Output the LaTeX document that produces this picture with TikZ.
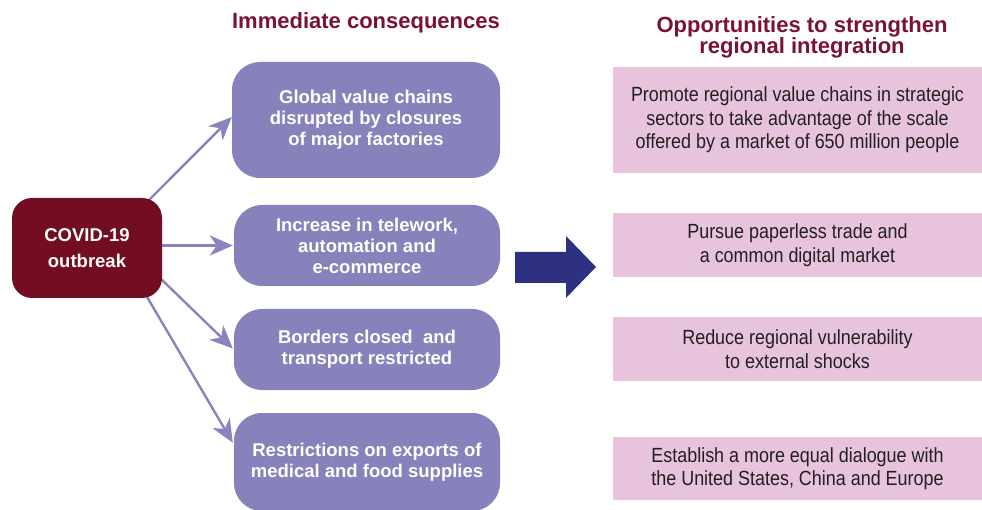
\documentclass[tikz,border=0pt]{standalone}
\usepackage{fontspec}
\setmainfont{Liberation Sans}
\newfontfamily\condfont{Liberation Sans}[FakeStretch=0.875]
\usetikzlibrary{arrows.meta,backgrounds,calc}
\definecolor{covidred}{HTML}{730D22}
\definecolor{headred}{HTML}{7A1234}
\definecolor{purp}{HTML}{8781BC}
\definecolor{arrowpurp}{HTML}{8A83C0}
\definecolor{pinkbox}{HTML}{E8C3DE}
\definecolor{navyarrow}{HTML}{2E3182}
\definecolor{darktext}{HTML}{231F20}
\begin{document}
\begin{tikzpicture}[x=1pt,y=-1pt,
  heading/.style={text=headred,font=\bfseries\fontsize{22}{21}\selectfont,align=center,inner sep=0pt},
  covidbox/.style={fill=covidred,rounded corners=20pt,minimum width=150pt,minimum height=100pt,text=white,font=\bfseries\fontsize{18.5}{26}\selectfont,align=center,inner sep=0pt},
  consbox/.style={fill=purp,rounded corners=28pt,text=white,font=\bfseries\fontsize{18.5}{21}\selectfont,align=center,inner sep=0pt},
  oppbox/.style={fill=pinkbox,text=darktext,font=\condfont\fontsize{20.5}{23.5}\selectfont,align=center,inner sep=0pt,minimum width=369pt},
  conn/.style={draw=arrowpurp,line width=2.4pt,-{Stealth[length=23pt,width=20pt,inset=7pt]}}
]
\useasboundingbox (0,0) rectangle (982,510);

% headings
\node[heading,anchor=base] (h1) at (366,29) {Immediate consequences};
\node[heading] (h2) at (802,37.5) {Opportunities to strengthen\\regional integration};

% source
\node[covidbox] (covid) at (87,248) {COVID-19\\outbreak};

% consequences
\node[consbox,minimum width=268pt,minimum height=116pt] (c1) at (366,120) {Global value chains\\disrupted by closures\\of major factories};
\node[consbox,minimum width=266pt,minimum height=81pt] (c2) at (367,245.5) {Increase in telework,\\automation and\\e-commerce};
\node[consbox,minimum width=266pt,minimum height=81pt] (c3) at (367,349.5) {Borders closed\ \ and\\transport restricted};
\node[consbox,minimum width=266pt,minimum height=98pt] (c4) at (367,462) {Restrictions on exports of\\medical and food supplies};

% opportunities
\node[oppbox,minimum height=106pt] (o1) at (797.5,120) {Promote regional value chains in strategic\\sectors to take advantage of the scale\\offered by a market of 650 million people};
\node[oppbox,minimum height=64pt] (o2) at (797.5,245) {Pursue paperless trade and\\a common digital market};
\node[oppbox,minimum height=64pt] (o3) at (797.5,349) {Reduce regional vulnerability\\to external shocks};
\node[oppbox,minimum height=63pt] (o4) at (797.5,468.5) {Establish a more equal dialogue with\\the United States, China and Europe};

% big arrow
\fill[navyarrow] (515,252) -- (566,252) -- (566,236) -- (596,267) -- (566,298) -- (566,283) -- (515,283) -- cycle;

% connectors
\begin{scope}[on background layer]
\draw[conn] ($(covid.north east)+(-15,4)$) -- ($(c1.west)+(0,-3)$);
\draw[conn] ($(covid.east)+(-5,-2.5)$) -- ($(c2.west)+(-1,0)$);
\draw[conn] ($(covid.south east)+(-2,-20)$) -- ($(c3.west)+(-1,-1)$);
\draw[conn] ($(covid.south east)+(-15,-1)$) -- ($(c4.north west)+(-1,30)$);
\end{scope}
\end{tikzpicture}
\end{document}
